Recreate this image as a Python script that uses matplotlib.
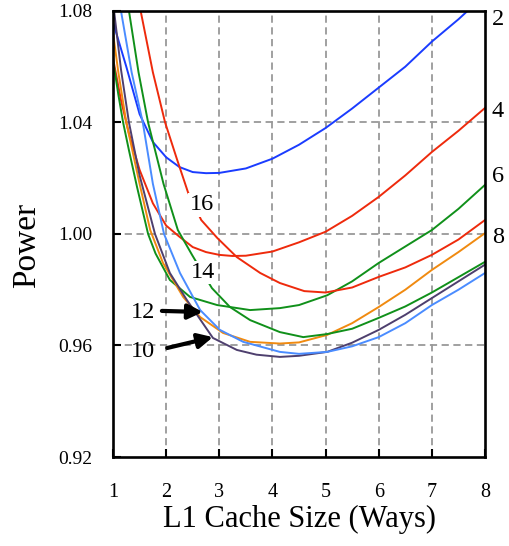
import matplotlib
matplotlib.use("Agg")
import matplotlib.pyplot as plt

# ── Data ──────────────────────────────────────────────────────────────────────

x_2 = [1.0, 1.25, 1.5, 1.75, 2.0, 2.25, 2.5, 2.75, 3.0, 3.5, 4.0, 4.5, 5.0,
       5.5, 6.0, 6.5, 7.0, 7.5, 7.7]
y_2 = [1.076, 1.060, 1.043, 1.033, 1.0275, 1.024, 1.0222, 1.0218, 1.0219,
       1.0235, 1.027, 1.032, 1.038, 1.045, 1.0525, 1.060, 1.069, 1.077, 1.0805]

x_4 = [1.0, 1.15, 1.3, 1.5, 1.75, 2.0, 2.25, 2.5, 2.75, 3.0, 3.25, 3.5, 4.0,
       4.5, 5.0, 5.5, 6.0, 6.5, 7.0, 7.5, 8.0]
y_4 = [1.063, 1.048, 1.036, 1.023, 1.011, 1.003, 0.999, 0.9953, 0.9935,
       0.9925, 0.9921, 0.9922, 0.9937, 0.997, 1.0008, 1.0065, 1.0133, 1.021,
       1.0294, 1.037, 1.0452]

x_6 = [1.0, 1.1, 1.19, 1.3, 1.45, 1.66, 1.8, 2.07, 2.45, 2.96, 3.58, 4.14,
       4.5, 5.03, 5.5, 6.0, 6.5, 7.0, 7.5, 8.0]
y_6 = [1.0624, 1.050, 1.040, 1.030, 1.017, 1.000, 0.993, 0.9835, 0.9774,
       0.9745, 0.9727, 0.9734, 0.9745, 0.978, 0.983, 0.9896, 0.9955, 1.0014,
       1.009, 1.0176]

x_8 = [1.0, 1.1, 1.25, 1.5, 1.70, 1.94, 2.32, 2.64, 3.07, 3.58, 4.14, 4.5,
       5.03, 5.5, 6.0, 6.5, 7.0, 7.5, 8.0]
y_8 = [1.072, 1.058, 1.040, 1.018, 1.0014, 0.9896, 0.9774, 0.9702, 0.9645,
       0.9613, 0.9607, 0.9611, 0.9638, 0.968, 0.9738, 0.980, 0.9871, 0.9935,
       1.0003]

x_10 = [1.0, 1.02, 1.15, 1.30, 1.5, 1.79, 2.07, 2.39, 2.88, 3.33, 3.7, 4.14,
        4.5, 5.03, 5.5, 6.0, 6.5, 7.0, 7.5, 8.0]
y_10 = [1.083, 1.080, 1.059, 1.040, 1.021, 1.000, 0.986, 0.9763, 0.9627,
        0.9584, 0.9567, 0.9559, 0.9563, 0.9577, 0.961, 0.9656, 0.971, 0.977,
        0.983, 0.989]

x_12 = [1.0, 1.15, 1.35, 1.56, 1.75, 1.96, 2.26, 2.64, 3.01, 3.45, 4.14, 4.5,
        5.03, 5.5, 6.0, 6.5, 7.0, 7.5, 8.0]
y_12 = [1.097, 1.080, 1.058, 1.040, 1.018, 1.000, 0.986, 0.9727, 0.9656,
        0.9613, 0.9577, 0.957, 0.9577, 0.9597, 0.963, 0.968, 0.9745, 0.980,
        0.986]

x_14 = [1.0, 1.15, 1.30, 1.48, 1.66, 1.95, 2.22, 2.49, 2.86, 3.20, 3.58, 4.14,
        4.58, 5.03, 5.5, 6.0, 6.5, 7.0, 7.5, 8.0]
y_14 = [1.125, 1.100, 1.080, 1.058, 1.040, 1.018, 1.0014, 0.9924, 0.9806,
        0.9738, 0.9691, 0.9648, 0.963, 0.9641, 0.966, 0.9699, 0.974, 0.979,
        0.9845, 0.990]

x_16 = [1.0, 1.25, 1.52, 1.75, 1.98, 2.2, 2.41, 2.66, 2.96, 3.33, 3.77, 4.14,
        4.6, 5.0, 5.5, 6.0, 6.5, 7.0, 7.5, 8.0]
y_16 = [1.16, 1.12, 1.080, 1.058, 1.040, 1.027, 1.015, 1.005, 0.9986, 0.9917,
        0.986, 0.9824, 0.9795, 0.979, 0.9808, 0.9846, 0.988, 0.9925, 0.998,
        1.005]

SERIES = [
    (x_2, y_2, "#1a3cff"),
    (x_4, y_4, "#ee2a0c"),
    (x_6, y_6, "#10901a"),
    (x_8, y_8, "#f08a10"),
    (x_10, y_10, "#4e3f6e"),
    (x_12, y_12, "#4a8cff"),
    (x_14, y_14, "#10901a"),
    (x_16, y_16, "#ee2a0c"),
]

X_TICKS = [1, 2, 3, 4, 5, 6, 7, 8]
Y_TICKS = [0.92, 0.96, 1.00, 1.04, 1.08]
Y_TICKLABELS = ["0.92", "0.96", "1.00", "1.04", "1.08"]

# right-hand curve labels
RIGHT_LABELS = ["2", "4", "6", "8"]
RIGHT_Y = [1.0768, 1.0438, 1.0205, 0.9986]

# ── Drawing ───────────────────────────────────────────────────────────────────

plt.rcParams["font.family"] = ["Liberation Serif", "DejaVu Serif"]

fig = plt.figure(figsize=(5.10, 5.46), dpi=100)
ax = fig.add_axes([0.2216, 0.163, 0.7294, 0.817])

for x in X_TICKS[1:-1]:
    ax.axvline(x, color="#999999", lw=1.3, ls=(0, (4, 2.5)), zorder=1)
for y in Y_TICKS[1:-1]:
    ax.axhline(y, color="#999999", lw=1.3, ls=(0, (4, 2.5)), zorder=1)

for xs, ys, col in SERIES:
    ax.plot(xs, ys, color=col, lw=1.4, zorder=3)

ax.set_xlim(1, 8)
ax.set_ylim(0.92, 1.08)
ax.set_xticks(X_TICKS)
ax.set_yticks(Y_TICKS)
ax.set_yticklabels(Y_TICKLABELS)
ax.tick_params(axis="x", direction="in", length=6, width=1.5,
               labelsize=14.5, pad=19)
ax.tick_params(axis="y", direction="in", length=6, width=1.5,
               labelsize=14, pad=15)
for sp in ax.spines.values():
    sp.set_linewidth(1.9)
    sp.set_zorder(5)

ax.set_xlabel("L1 Cache Size (Ways)", fontsize=22, labelpad=2)
ax.set_ylabel("Power", fontsize=24, va="center")
ax.yaxis.set_label_coords(-0.231, 0.475)

# labels 16 and 14 sit on their curves, covering them
for txt, lx, ly in [("16", 2.67, 1.0104), ("14", 2.69, 0.9862)]:
    ax.text(lx, ly, txt, fontsize=17.5, ha="center", va="center", zorder=4,
            bbox=dict(facecolor="white", edgecolor="none", pad=0.8))

ax.text(1.565, 0.9717, "12", fontsize=17.5, ha="center", va="center", zorder=4)
ax.text(1.565, 0.9577, "10", fontsize=17.5, ha="center", va="center", zorder=4)

arrow = dict(arrowstyle="-|>", lw=3, color="black", mutation_scale=22,
             shrinkA=0, shrinkB=0)
ax.annotate("", xy=(2.69, 0.9720), xytext=(1.92, 0.9724),
            arrowprops=arrow, zorder=6)
ax.annotate("", xy=(2.88, 0.9630), xytext=(2.02, 0.9591),
            arrowprops=arrow, zorder=6)

for txt, ly in zip(RIGHT_LABELS, RIGHT_Y):
    ax.text(8.13, ly, txt, fontsize=17.5, ha="left", va="center",
            clip_on=False)

fig.savefig("out.png", dpi=100)
